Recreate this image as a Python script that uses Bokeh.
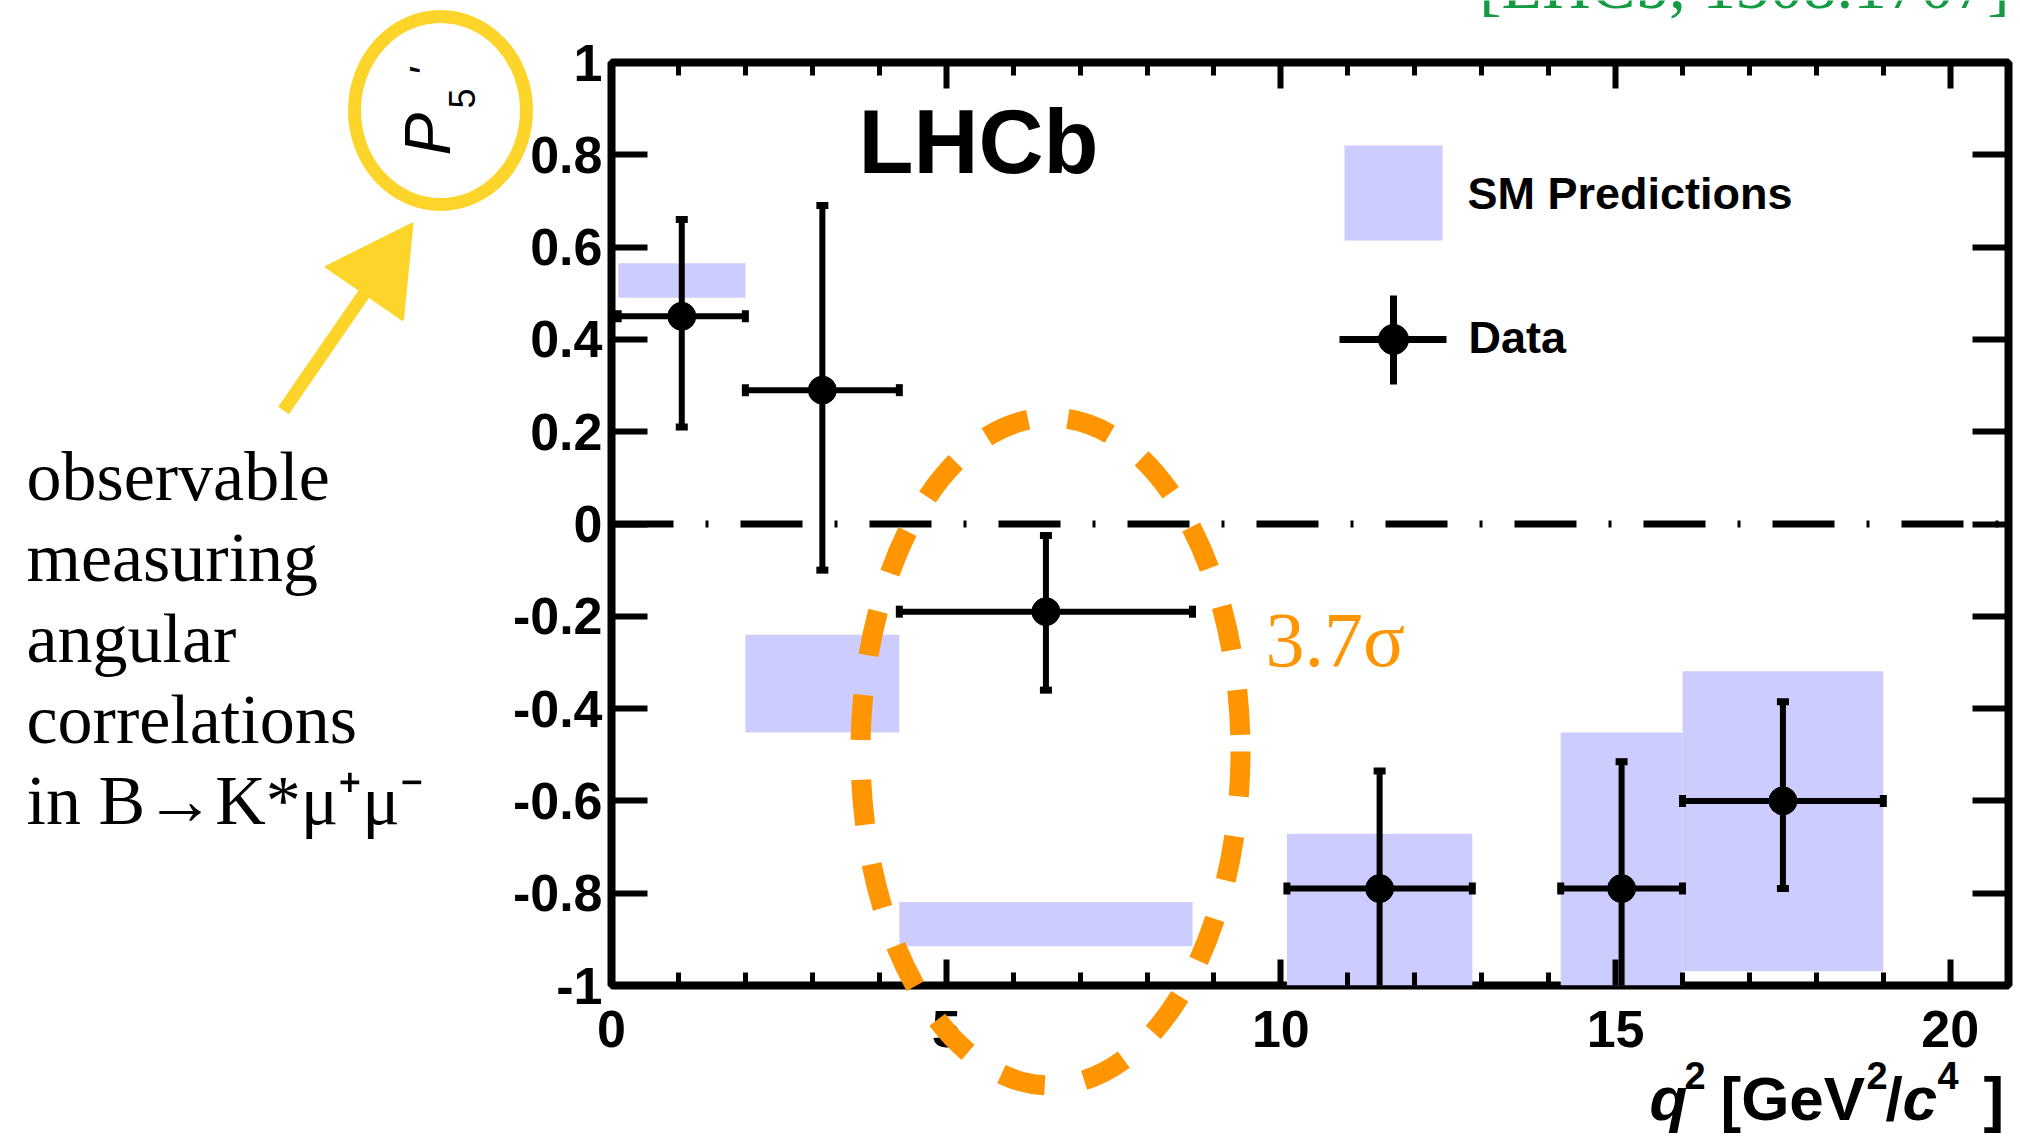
import math
import numpy as np
from bokeh.plotting import figure
from bokeh.models import (ColumnDataSource, Range1d, FixedTicker, LinearAxis, Span, Label,
                          PolyAnnotation, BoxAnnotation, Arrow, GridBox)
from bokeh.embed import file_html
from bokeh.resources import INLINE

# ---------------- data ----------------
bin_lo = [0.10, 2.00, 4.30, 10.09, 14.18, 16.00]
bin_hi = [2.00, 4.30, 8.68, 12.86, 16.00, 19.00]
p5_data = [0.45, 0.29, -0.19, -0.79, -0.79, -0.60]
p5_err_up = [0.21, 0.40, 0.165, 0.255, 0.275, 0.215]
p5_err_dn = [0.24, 0.39, 0.17, 0.23, 0.28, 0.19]
sm_top = [0.565, -0.240, -0.819, -0.671, -0.452, -0.319]
sm_bottom = [0.490, -0.452, -0.915, -1.00, -1.00, -0.969]

x_ticks = [0, 5, 10, 15, 20]
x_tick_labels = ["0", "5", "10", "15", "20"]
x_minor_ticks = [1, 2, 3, 4, 6, 7, 8, 9, 11, 12, 13, 14, 16, 17, 18, 19]
y_ticks = [-1.0, -0.8, -0.6, -0.4, -0.2, 0.0, 0.2, 0.4, 0.6, 0.8, 1.0]
y_tick_labels = ["-1", "-0.8", "-0.6", "-0.4", "-0.2", "0", "0.2", "0.4", "0.6", "0.8", "1"]

text_lines = ["observable", "measuring", "angular", "correlations", "in B\u2192K*\u03bc\u207a\u03bc\u207b"]

# ---------------- layout ----------------
W, H = 2020, 1139
FRAME_L, FRAME_R, FRAME_T, FRAME_B = 611, 2008, 62, 985
X_END = 20.87
XPX = (FRAME_R - FRAME_L) / X_END
YPX = (FRAME_B - FRAME_T) / 2.0
BL = 0.4  # baseline correction (fraction of font size)

def dx(X):
    return (X - FRAME_L) / XPX

def dy(Y):
    return 1.0 - (Y - FRAME_T) / YPX

ORANGE = "#FF9500"
YELLOW = "#FDD52A"
BOXBLUE = "#CCCCFF"
SANS = "Liberation Sans"
SERIF = "Liberation Serif"

p = figure(width=W, height=H, x_range=Range1d(0, X_END), y_range=Range1d(-1, 1),
           output_backend="svg", toolbar_location=None,
           min_border_left=FRAME_L, min_border_right=W - FRAME_R,
           min_border_top=FRAME_T, min_border_bottom=H - FRAME_B)
p.grid.visible = False
p.background_fill_color = "white"
p.border_fill_color = "white"
p.outline_line_color = "black"
p.outline_line_width = 8

xt = FixedTicker(ticks=x_ticks, minor_ticks=x_minor_ticks)
yt = FixedTicker(ticks=y_ticks, minor_ticks=[])

def style(ax, ticker, tick_in, minor_in, labels):
    ax.ticker = ticker
    ax.axis_line_color = None
    ax.major_tick_in = tick_in
    ax.major_tick_out = 0
    ax.minor_tick_in = minor_in
    ax.minor_tick_out = 0
    ax.major_tick_line_width = 6
    ax.minor_tick_line_width = 5
    ax.major_tick_line_color = "black"
    ax.minor_tick_line_color = "black"
    if labels is None:
        ax.major_label_overrides = {t: "" for t in ticker.ticks}
        ax.major_label_text_font_size = "1px"
        ax.major_label_standoff = 0
    else:
        ax.major_label_overrides = dict(zip(ticker.ticks, labels))
        ax.major_label_text_font = SANS
        ax.major_label_text_font_style = "bold"
        ax.major_label_text_font_size = "52px"
        ax.major_label_text_color = "black"

style(p.xaxis[0], xt, 26, 13, x_tick_labels)
p.xaxis[0].major_label_standoff = 25
style(p.yaxis[0], yt, 36, 0, y_tick_labels)
p.yaxis[0].major_label_standoff = 9

top_ax = LinearAxis()
style(top_ax, FixedTicker(ticks=x_ticks, minor_ticks=x_minor_ticks), 26, 13, None)
p.add_layout(top_ax, "above")
right_ax = LinearAxis()
style(right_ax, FixedTicker(ticks=y_ticks, minor_ticks=[]), 36, 0, None)
p.add_layout(right_ax, "right")

# ---------------- SM predictions ----------------
p.quad(left=bin_lo, right=bin_hi, top=sm_top, bottom=sm_bottom,
       fill_color=BOXBLUE, line_color=None)

# ---------------- data points ----------------
xc = [(a + b) / 2 for a, b in zip(bin_lo, bin_hi)]
y_hi = [v + e for v, e in zip(p5_data, p5_err_up)]
y_lo = [v - e for v, e in zip(p5_data, p5_err_dn)]
src = ColumnDataSource(dict(xc=xc, lo=bin_lo, hi=bin_hi, y=p5_data, y_hi=y_hi, y_lo=y_lo))

p.segment(x0="lo", x1="hi", y0="y", y1="y", line_width=6, line_color="black", source=src)
p.segment(x0="xc", x1="xc", y0="y_lo", y1="y_hi", line_width=6, line_color="black", source=src)
p.scatter(x="xc", y="y_hi", marker="dash", size=12, line_width=7, line_color="black", source=src)
p.scatter(x="xc", y="y_lo", marker="dash", size=12, line_width=7, line_color="black", source=src)
p.scatter(x="lo", y="y", marker="dash", angle=math.pi / 2, size=12, line_width=7, line_color="black", source=src)
p.scatter(x="hi", y="y", marker="dash", angle=math.pi / 2, size=12, line_width=7, line_color="black", source=src)
p.scatter(x="xc", y="y", marker="circle", size=28, fill_color="black", line_color="black", source=src)

# zero line
p.add_layout(Span(location=0, dimension="width", line_color="black", line_width=7,
                  line_dash="62 32 3 32"))

# ---------------- legend (drawn inside the frame) ----------------
def mlab(X, Y, txt, size_px, style="bold", font=SANS, color="black"):
    p.add_layout(Label(x=dx(X), y=dy(Y - BL * size_px), text=txt, text_font=font,
                       text_font_style=style, text_font_size=f"{size_px}px",
                       text_baseline="alphabetic", text_color=color))

p.add_layout(BoxAnnotation(left=dx(1344), right=dx(1442), top=dy(145), bottom=dy(240),
                           fill_color=BOXBLUE, fill_alpha=1.0, line_color=None))
mlab(1467, 211, "SM Predictions", 45)
LX, LY = 1393, 339
p.add_layout(Arrow(x_start=dx(1339), y_start=dy(LY), x_end=dx(1446), y_end=dy(LY),
                   end=None, line_width=7, line_color="black"))
p.add_layout(Arrow(x_start=dx(LX), y_start=dy(295), x_end=dx(LX), y_end=dy(384),
                   end=None, line_width=7, line_color="black"))
t = np.linspace(0, 2 * np.pi, 60, endpoint=False)
p.add_layout(PolyAnnotation(xs=[dx(LX + 15 * math.cos(a)) for a in t],
                            ys=[dy(LY + 15 * math.sin(a)) for a in t],
                            fill_color="black", fill_alpha=1.0, line_color="black", line_alpha=1.0))
mlab(1468, 355, "Data", 45)
mlab(858, 177, "LHCb", 90)

# ---------------- overlay figure (slide annotations, pixel coordinates) ----------------
ov = figure(width=W, height=H, x_range=Range1d(0, W), y_range=Range1d(H, 0),
            output_backend="svg", toolbar_location=None, min_border=0,
            x_axis_location=None, y_axis_location=None)
ov.grid.visible = False
ov.outline_line_color = None
ov.background_fill_color = None
ov.border_fill_color = None
if "frame_align" in ov.properties():
    ov.frame_align = False
    p.frame_align = False

def olab(X, Y, txt, size_px, style="bold", angle=0.0, font=SANS, color="black", align="left"):
    if angle:
        X = X - BL * size_px
    else:
        Y = Y - BL * size_px
    ov.add_layout(Label(x=X, y=Y, text=txt, text_font=font, text_font_style=style,
                        text_font_size=f"{size_px}px", text_baseline="alphabetic",
                        text_align=align, angle=angle, text_color=color))

# x-axis title q^2 [GeV^2/c^4]
olab(1649, 1123, "q", 62, "bold italic")
olab(1684, 1090, "2", 38)
olab(1720, 1123, "[GeV", 62)
olab(1866, 1090, "2", 38)
olab(1885, 1123, "/", 62)
olab(1902, 1123, "c", 62, "bold italic")
olab(1937, 1090, "4", 38)
olab(1983, 1123, "]", 62)

# y-axis title P'_5 (rotated)
olab(453, 155, "P", 64, "italic", angle=math.pi / 2)
olab(476, 108, "5", 36, "normal", angle=math.pi / 2)
olab(443, 76, "'", 44, "italic", angle=math.pi / 2)

# yellow hand-drawn circle and arrow
ov.ellipse(x=[440], y=[110], width=[172], height=[188], fill_color=None,
           line_color=YELLOW, line_width=13)
S = np.array([283.0, 410.0])
T = np.array([412.0, 223.0])
u = (T - S) / np.linalg.norm(T - S)
perp = np.array([-u[1], u[0]])
base = T - 85 * u
ov.line(x=[S[0], base[0] + 4 * u[0]], y=[S[1], base[1] + 4 * u[1]], line_width=13,
        line_color=YELLOW)
c1 = base + 47 * perp
c2 = base - 47 * perp
ov.patch(x=[T[0], c1[0], c2[0]], y=[T[1], c1[1], c2[1]], fill_color=YELLOW,
         line_color=YELLOW, line_width=2)

# explanatory text
for i, tx in enumerate(text_lines):
    olab(26, 504 + 81 * i, tx, 70, "normal", font=SERIF)

# orange dashed ellipse and significance
ov.ellipse(x=[1050], y=[751], width=[380], height=[668], fill_color=None,
           line_color=ORANGE, line_width=20, line_dash="45 40")
olab(1265, 670, "3.7\u03c3", 78, "normal", font=SERIF, color=ORANGE)

# citation at the top edge (cut off in the reference)
olab(2009, 11, "[LHCb, 1308.1707]", 67, "normal", font=SERIF, color="#139A43", align="right")

layout = GridBox(children=[(p, 0, 0), (ov, 0, 0)])
open("out.html", "w").write(file_html(layout, INLINE))
